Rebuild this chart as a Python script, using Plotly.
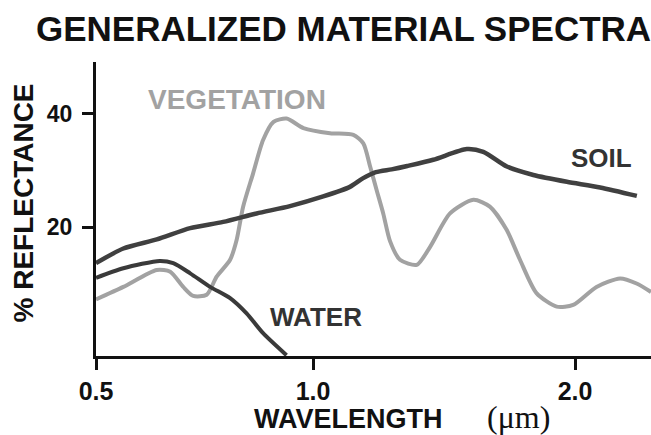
import numpy as np
import plotly.graph_objects as go

# ---------------- data ----------------
soil_wl = [0.50, 0.563, 0.640, 0.717, 0.793, 0.870, 0.947, 1.039, 1.141, 1.190,
           1.240, 1.300, 1.360, 1.459, 1.587, 1.650, 1.740, 1.841, 1.969, 2.096, 2.236]
soil_r = [13.6, 16.2, 17.8, 19.8, 20.9, 22.4, 23.7, 25.4, 27.1, 28.6,
          29.7, 30.2, 30.8, 31.9, 33.8, 33.3, 30.7, 29.2, 28.0, 27.0, 25.5]

veg_wl = [0.50, 0.563, 0.640, 0.671, 0.701, 0.724, 0.755, 0.778, 0.809, 0.824,
          0.839, 0.862, 0.885, 0.909, 0.939, 0.978, 1.065, 1.154, 1.192, 1.218,
          1.243, 1.268, 1.294, 1.332, 1.396, 1.447, 1.523, 1.612, 1.675, 1.739,
          1.790, 1.853, 1.930, 1.993, 2.082, 2.172, 2.235, 2.290]
veg_r = [7.2, 9.4, 12.4, 12.1, 9.4, 7.8, 8.0, 11.2, 14.2, 17.7,
         23.6, 29.5, 35.4, 38.6, 39.2, 37.5, 36.6, 36.3, 34.8, 30.7,
         26.5, 22.4, 17.5, 14.2, 13.3, 16.5, 22.4, 24.8, 23.6, 19.5,
         14.2, 8.3, 5.9, 6.2, 9.4, 10.9, 10.0, 8.5]

water_wl = [0.50, 0.563, 0.647, 0.678, 0.717, 0.763, 0.809, 0.847, 0.885, 0.939]
water_r = [11.0, 12.7, 14.0, 13.6, 11.8, 9.4, 7.4, 4.7, 1.2, -2.7]

x_tick_wl = [0.5, 1.0, 2.0]
x_tick_text = ["0.5", "1.0", "2.0"]
y_tick_vals = [20, 40]
y_tick_text = ["20", "40"]


# The reference uses a non-uniform wavelength axis: 0.5-1.0 um is drawn
# shorter per micron than 1.0-2.0 um. Piecewise-linear scale:
def wl_axis(w):
    w = np.asarray(w, float)
    return np.where(w <= 1.0, w, 1.0 + (w - 1.0) * 0.6037)


W, H = 651, 435
L, T, R, B = 96, 62, 0, 79
PW, PH = W - L - R, H - T - B
AX_BOTTOM = H - B

FONT = "Liberation Sans, Arial, Helvetica, sans-serif"
SERIF = "Liberation Serif, Times New Roman, serif"


def pxx(xpix):
    return (xpix - L) / PW


def pxy(ypix):
    return (AX_BOTTOM - ypix) / PH


fig = go.Figure()

fig.add_trace(go.Scatter(
    x=wl_axis(veg_wl), y=veg_r, mode="lines", name="Vegetation",
    line=dict(color="#a2a2a2", width=4, shape="spline", smoothing=0.7),
    hoverinfo="skip"))
fig.add_trace(go.Scatter(
    x=wl_axis(water_wl), y=water_r, mode="lines", name="Water",
    line=dict(color="#3a3a3a", width=4, shape="spline", smoothing=0.7),
    hoverinfo="skip"))
fig.add_trace(go.Scatter(
    x=wl_axis(soil_wl), y=soil_r, mode="lines", name="Soil",
    line=dict(color="#404040", width=4.5, shape="spline", smoothing=0.7),
    hoverinfo="skip"))

annotations = [
    dict(text="GENERALIZED MATERIAL SPECTRA", x=pxx(34), y=pxy(28),
         xanchor="left", yanchor="middle",
         font=dict(family=FONT, size=35, color="#111111", weight="bold")),
    dict(text="VEGETATION", x=pxx(236.5), y=pxy(99.5),
         xanchor="center", yanchor="middle",
         font=dict(family=FONT, size=28, color="#a2a2a2", weight="bold")),
    dict(text="SOIL", x=pxx(601.7), y=pxy(158),
         xanchor="center", yanchor="middle",
         font=dict(family=FONT, size=26, color="#333333", weight="bold")),
    dict(text="WATER", x=pxx(315.8), y=pxy(316.7),
         xanchor="center", yanchor="middle",
         font=dict(family=FONT, size=26, color="#333333", weight="bold")),
    dict(text="WAVELENGTH", x=pxx(348), y=pxy(419),
         xanchor="center", yanchor="middle",
         font=dict(family=FONT, size=27, color="#111111", weight="bold")),
    dict(text="(\u03bcm)", x=pxx(518), y=pxy(416.5),
         xanchor="center", yanchor="middle",
         font=dict(family=SERIF, size=32, color="#111111")),
    dict(text="% REFLECTANCE", x=pxx(23), y=pxy(203.5), textangle=-90,
         xanchor="center", yanchor="middle",
         font=dict(family=FONT, size=28, color="#111111", weight="bold")),
]
for a in annotations:
    a.update(xref="paper", yref="paper", showarrow=False)

fig.update_layout(
    width=W, height=H,
    margin=dict(l=L, r=R, t=T, b=B, pad=0),
    paper_bgcolor="white", plot_bgcolor="white",
    showlegend=False,
    annotations=annotations,
    xaxis=dict(
        range=[0.5, float(wl_axis(0.5) + PW / 434.0)],
        tickmode="array", tickvals=wl_axis(x_tick_wl).tolist(), ticktext=x_tick_text,
        ticks="outside", ticklen=11, tickwidth=3, tickcolor="#111111",
        showline=True, linewidth=3, linecolor="#111111",
        showgrid=False, zeroline=False,
        tickfont=dict(family=FONT, size=25, color="#111111", weight="bold"),
        fixedrange=True,
    ),
    yaxis=dict(
        range=[-2.83, 49.2],
        tickmode="array", tickvals=y_tick_vals, ticktext=y_tick_text,
        ticks="outside", ticklen=11, tickwidth=3, tickcolor="#111111",
        showline=True, linewidth=3, linecolor="#111111",
        showgrid=False, zeroline=False,
        ticklabelstandoff=5,
        tickfont=dict(family=FONT, size=23, color="#111111", weight="bold"),
        fixedrange=True,
    ),
)

fig.write_html("out.html", post_script="document.body.style.margin='0';",
               config={"displayModeBar": False})
